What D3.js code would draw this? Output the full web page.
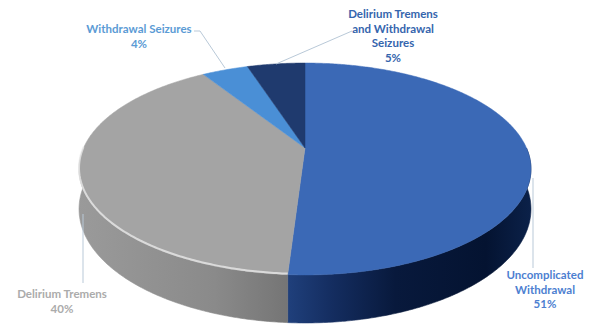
<!DOCTYPE html>
<html>
<head>
<meta charset="utf-8">
<script src="https://cdn.jsdelivr.net/npm/d3@7"></script>
<style>
  body { margin: 0; background: #fff; }
  svg { display: block; }
</style>
</head>
<body>
<div id="chart"></div>
<script>
// data
const categories = ["Uncomplicated Withdrawal", "Delirium Tremens", "Withdrawal Seizures", "Delirium Tremens and Withdrawal Seizures"];
const values = [51, 40, 4, 5];
const labelLines = [
  ["Uncomplicated", "Withdrawal", "51%"],
  ["Delirium Tremens", "40%"],
  ["Withdrawal Seizures", "4%"],
  ["Delirium Tremens", "and Withdrawal", "Seizures", "5%"]
];

const width = 597;
const height = 327;

// slice styling
const topColors = ["#3b69b6", "#a4a4a4", "#4a8fd6", "#1f3a6e"];
const sideStops = [
  [[0.45, "#21427f"], [0.56, "#142d60"], [0.7, "#08193c"], [0.9, "#041331"], [1, "#0b2149"]],
  [[0, "#9a9a9a"], [0.3, "#8a8a8a"], [0.47, "#747474"]],
  [[0, "#3a77b8"], [1, "#3a77b8"]],
  [[0, "#16294f"], [1, "#16294f"]]
];
const rimOpacity = [0, 0.75, 0, 0];
const labelColors = ["#4d7fd1", "#ababab", "#5b9bd5", "#3565ad"];

// label layout: anchor centre x, first line centre y
const labelPos = [[545, 275], [62, 294], [139, 29], [393, 14]];
const lineStep = 14.7;
const leaders = [
  [[533, 178], [533, 268]],
  [[83, 214], [83, 283]],
  [[194, 31], [200, 31], [225, 68]],
  [[352, 31], [276, 64]]
];

// projection of the tilted disc
const cx = 305, cy = 148, rx = 221.5, ry = 101.8, persp = 5.05, depth = 38.5;
const project = (a, drop) => {
  const u = Math.sin(a);
  const v = -Math.cos(a);
  const s = persp / (persp - v);
  return [cx + rx * u * s, cy + ry * v * s + (drop ? depth * s : 0)];
};
const arcPoints = (a0, a1, drop) => {
  const n = Math.max(2, Math.ceil(Math.abs(a1 - a0) / 0.01));
  const angle = d3.scaleLinear().domain([0, n]).range([a0, a1]);
  return d3.range(n + 1).map((i) => project(angle(i), drop));
};

const svg = d3
  .select("#chart")
  .append("svg")
  .attr("width", width)
  .attr("height", height);

const defs = svg.append("defs");
sideStops.forEach((stops, i) => {
  const g = defs
    .append("linearGradient")
    .attr("id", "side" + i)
    .attr("gradientUnits", "userSpaceOnUse")
    .attr("x1", cx - rx * 1.02)
    .attr("x2", cx + rx * 1.02)
    .attr("y1", 0)
    .attr("y2", 0);
  stops.forEach((st) => {
    g.append("stop").attr("offset", st[0]).attr("stop-color", st[1]);
  });
});

const pie = d3.pie().sort(null).value((d) => d);
const arcs = pie(values);

const line = d3.line();

// outer walls, only the part facing the viewer
const front0 = Math.PI / 2, front1 = Math.PI * 1.5;
arcs.forEach((d, i) => {
  const a0 = Math.max(d.startAngle, front0);
  const a1 = Math.min(d.endAngle, front1);
  if (a1 <= a0) return;
  const topEdge = arcPoints(a0, a1, false);
  const bottomEdge = arcPoints(a0, a1, true).reverse();
  svg
    .append("path")
    .attr("d", line(topEdge.concat(bottomEdge)) + "Z")
    .attr("fill", "url(#side" + i + ")")
    .attr("stroke", "url(#side" + i + ")")
    .attr("stroke-width", 0.6);
});

// top faces
arcs.forEach((d, i) => {
  const pts = [[cx, cy]].concat(arcPoints(d.startAngle, d.endAngle, false));
  svg
    .append("path")
    .attr("d", line(pts) + "Z")
    .attr("fill", topColors[i])
    .attr("stroke", topColors[i])
    .attr("stroke-width", 0.5);
});

// rim highlight on the front edge
arcs.forEach((d, i) => {
  const a0 = Math.max(d.startAngle, front0);
  const a1 = Math.min(d.endAngle, front1);
  if (a1 <= a0 || !rimOpacity[i]) return;
  svg
    .append("path")
    .attr("d", line(arcPoints(a0, a1, false).map((p) => [p[0], p[1] - 1])))
    .attr("fill", "none")
    .attr("stroke", "#ececec")
    .attr("stroke-opacity", rimOpacity[i])
    .attr("stroke-width", 2);
});

// leader lines
leaders.forEach((pts) => {
  svg
    .append("path")
    .attr("d", line(pts))
    .attr("fill", "none")
    .attr("stroke", "#b9c9d8")
    .attr("stroke-width", 1);
});

// data labels
labelLines.forEach((lines, i) => {
  const t = svg
    .append("text")
    .attr("text-anchor", "middle")
    .attr("font-family", "Lato, 'Open Sans', sans-serif")
    .attr("font-weight", "bold")
    .attr("font-size", 11.5)
    .attr("fill", labelColors[i]);
  lines.forEach((s, j) => {
    t.append("tspan")
      .attr("x", labelPos[i][0])
      .attr("y", labelPos[i][1] + j * lineStep)
      .attr("dy", "0.35em")
      .text(s);
  });
});
</script>
</body>
</html>
